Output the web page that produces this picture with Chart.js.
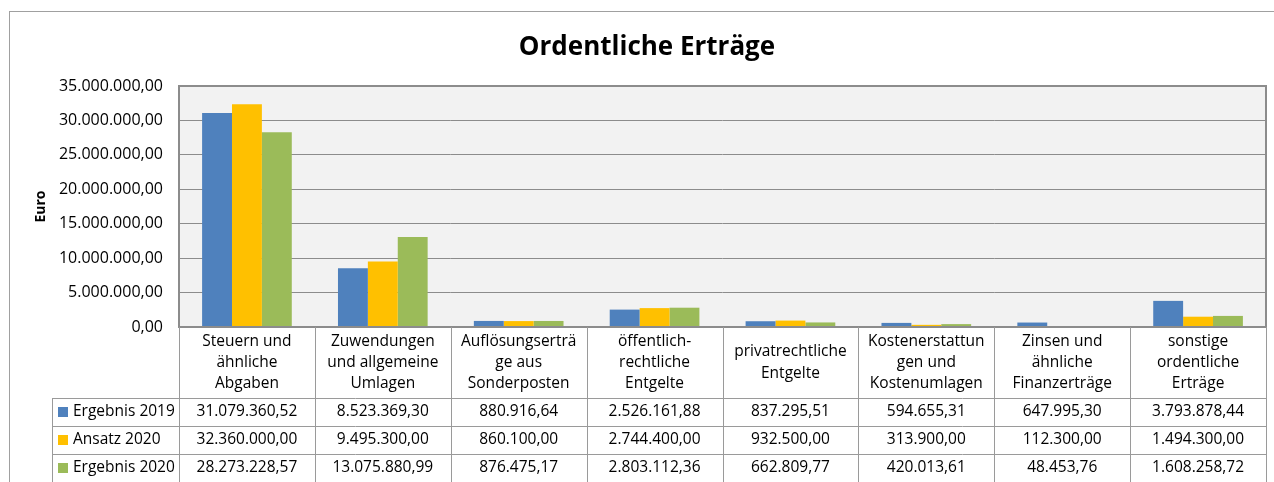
<!DOCTYPE html>
<html>
<head>
<meta charset="utf-8">
<script src="https://cdn.jsdelivr.net/npm/chart.js@4.4.1/dist/chart.umd.min.js"></script>
<style>
  html, body { margin: 0; padding: 0; background: #fff; }
  #wrap { width: 1274px; height: 482px; }
</style>
</head>
<body>
<div id="wrap"><canvas id="chart" width="1274" height="482"></canvas></div>
<script>
// Ordentliche Erträge - Excel style column chart with data table

const categories = [
    ['Steuern und', 'ähnliche', 'Abgaben'],
    ['Zuwendungen', 'und allgemeine', 'Umlagen'],
    ['Auflösungserträ', 'ge aus', 'Sonderposten'],
    ['öffentlich-', 'rechtliche', 'Entgelte'],
    ['privatrechtliche', 'Entgelte'],
    ['Kostenerstattun', 'gen und', 'Kostenumlagen'],
    ['Zinsen und', 'ähnliche', 'Finanzerträge'],
    ['sonstige', 'ordentliche', 'Erträge']
];

const seriesNames = ['Ergebnis 2019', 'Ansatz 2020', 'Ergebnis 2020'];
const seriesColors = ['#4F81BD', '#FFC000', '#9BBB59'];

const ergebnis2019 = [31079360.52, 8523369.30, 880916.64, 2526161.88, 837295.51, 594655.31, 647995.30, 3793878.44];
const ansatz2020 = [32360000.00, 9495300.00, 860100.00, 2744400.00, 932500.00, 313900.00, 112300.00, 1494300.00];
const ergebnis2020 = [28273228.57, 13075880.99, 876475.17, 2803112.36, 662809.77, 420013.61, 48453.76, 1608258.72];

const yMin = 0;
const yMax = 35000000;
const yStep = 5000000;

const FONT = "'Open Sans', 'Liberation Sans', sans-serif";

// 1234567.8 -> "1.234.567,80"
function fmt(v) {
    const parts = Math.abs(v).toFixed(2).split('.');
    const int = parts[0].replace(/\B(?=(\d{3})+(?!\d))/g, '.');
    return (v < 0 ? '-' : '') + int + ',' + parts[1];
}

const frame = {
    id: 'frame',
    beforeDraw(chart) {
        const { ctx, chartArea: a } = chart;
        ctx.save();
        // outer chart border
        ctx.strokeStyle = '#a0a0a0';
        ctx.lineWidth = 1;
        ctx.strokeRect(9.5, 11.5, 1300, 500);
        // plot background
        ctx.fillStyle = '#F2F2F2';
        ctx.fillRect(a.left, a.top, a.right - a.left, a.bottom - a.top);
        ctx.restore();
    },
    afterDatasetsDraw(chart) {
        const { ctx, chartArea: a } = chart;
        ctx.save();
        ctx.strokeStyle = '#8c8c8c';
        ctx.lineWidth = 2;
        ctx.strokeRect(a.left, a.top, a.right - a.left, a.bottom - a.top);
        ctx.restore();
    }
};

const dataTable = {
    id: 'dataTable',
    afterDraw(chart) {
        const { ctx, chartArea: a, scales: { x } } = chart;
        const n = categories.length;
        const colW = (a.right - a.left) / n;
        const headTop = a.bottom;
        const headBottom = headTop + 71;
        const rowH = 28;
        const legendLeft = 52;
        const rows = [ergebnis2019, ansatz2020, ergebnis2020];
        const tableBottom = headBottom + rowH * rows.length;

        ctx.save();
        ctx.strokeStyle = '#9a9a9a';
        ctx.lineWidth = 1;

        // vertical lines
        for (let i = 0; i <= n; i++) {
            const px = Math.round(a.left + i * colW) + 0.5;
            ctx.beginPath();
            ctx.moveTo(px, headTop);
            ctx.lineTo(px, tableBottom);
            ctx.stroke();
        }
        ctx.beginPath();
        ctx.moveTo(legendLeft + 0.5, headBottom);
        ctx.lineTo(legendLeft + 0.5, tableBottom);
        ctx.stroke();

        // horizontal lines
        for (let r = 0; r <= rows.length; r++) {
            const py = Math.round(headBottom + r * rowH) + 0.5;
            ctx.beginPath();
            ctx.moveTo(legendLeft, py);
            ctx.lineTo(a.right, py);
            ctx.stroke();
        }

        ctx.fillStyle = '#000';
        ctx.font = '15.5px ' + FONT;
        ctx.textAlign = 'center';
        ctx.textBaseline = 'middle';

        // header labels
        const lineH = 21.3;
        const headMid = (headTop + headBottom) / 2;
        categories.forEach((lines, i) => {
            const cx = x.getPixelForValue(i);
            const y0 = headMid - (lines.length - 1) * lineH / 2;
            lines.forEach((t, k) => ctx.fillText(t, cx, y0 + k * lineH));
        });

        // values
        rows.forEach((vals, r) => {
            const cy = headBottom + r * rowH + rowH / 2;
            vals.forEach((v, i) => ctx.fillText(fmt(v), x.getPixelForValue(i), cy));
        });

        // legend keys
        ctx.textAlign = 'left';
        seriesNames.forEach((name, r) => {
            const cy = headBottom + r * rowH + rowH / 2;
            ctx.fillStyle = seriesColors[r];
            ctx.fillRect(58, Math.round(cy - 5), 10, 10);
            ctx.fillStyle = '#000';
            ctx.fillText(name, 73, cy);
        });
        ctx.restore();
    }
};

Chart.defaults.font.family = FONT;
Chart.defaults.color = '#000';

new Chart(document.getElementById('chart'), {
    type: 'bar',
    data: {
        labels: categories,
        datasets: [
            { label: seriesNames[0], data: ergebnis2019, backgroundColor: seriesColors[0] },
            { label: seriesNames[1], data: ansatz2020, backgroundColor: seriesColors[1] },
            { label: seriesNames[2], data: ergebnis2020, backgroundColor: seriesColors[2] }
        ]
    },
    options: {
        responsive: false,
        animation: false,
        layout: { padding: { left: 28, right: 8, top: 0, bottom: 0 } },
        datasets: { bar: { categoryPercentage: 0.66, barPercentage: 1.0 } },
        plugins: {
            legend: { display: false },
            tooltip: { enabled: false },
            title: {
                display: true,
                text: 'Ordentliche Erträge',
                font: { size: 26, weight: 'bold' },
                color: '#000',
                padding: { top: 32, bottom: 22.8 }
            }
        },
        scales: {
            x: {
                ticks: { display: false },
                grid: { display: false },
                border: { display: false },
                afterFit(scale) { scale.height = 155; }
            },
            y: {
                min: yMin,
                max: yMax,
                ticks: {
                    stepSize: yStep,
                    padding: 16,
                    font: { size: 16 },
                    callback: v => fmt(v)
                },
                grid: { color: '#8c8c8c', lineWidth: 1, drawTicks: false },
                border: { display: false },
                title: {
                    display: true,
                    text: 'Euro',
                    font: { size: 14, weight: 'bold' },
                    padding: { top: 5, bottom: 0 }
                },
                afterFit(scale) { scale.width = 151; }
            }
        }
    },
    plugins: [frame, dataTable]
});
</script>
</body>
</html>
